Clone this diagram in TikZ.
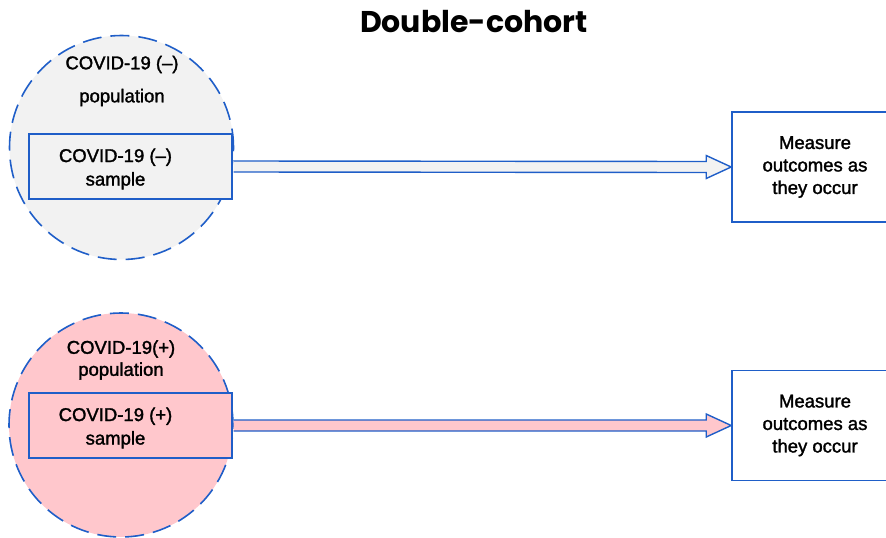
\documentclass[tikz,border=0pt]{standalone}
\usepackage{fontspec}
\setmainfont{Liberation Sans}
\newfontfamily\bodyfont{Liberation Sans}[FakeBold=1.6]
\newfontfamily\titlefont{Poppins}[BoldFont={Poppins Bold}]
\usetikzlibrary{calc}
\definecolor{bblue}{RGB}{31,94,200}
\definecolor{lgray}{RGB}{242,242,242}
\definecolor{lpink}{RGB}{255,199,204}
\begin{document}
\begin{tikzpicture}[x=1pt,y=-1pt,
 pop/.style={circle, draw=bblue, line width=1.6pt, dash pattern=on 19pt off 9pt, minimum size=224pt, inner sep=0pt},
 samp/.style={draw=bblue, line width=1.6pt, minimum width=203pt, minimum height=65pt, inner sep=0pt},
 meas/.style={draw=bblue, fill=white, line width=1.6pt, minimum width=166pt, minimum height=110pt, inner sep=0pt, align=center, font=\bodyfont\fontsize{18.5}{22.5}\selectfont},
 lbl/.style={align=center, font=\bodyfont\fontsize{18.5}{22}\selectfont, inner sep=0pt},
 fat/.style={draw=bblue, line width=1.4pt, line join=miter}]
\path[use as bounding box] (0,0) rectangle (886,538);
\clip (0,0) rectangle (886,538);
\node[font=\titlefont\bfseries\fontsize{30}{32}\selectfont] (title) at (474,22) {Double-cohort};
% top cohort
\node[pop, fill=lgray] (p1) at (121.5,147.5) {};
\node[lbl] (p1t) at (122,81) {COVID-19 (–)\\[11pt]population};
\node[meas] (m1) at (815,167) {Measure\\outcomes as\\they occur};
\node[samp, fill=lgray] (s1) at (130.5,166.5) {};
\draw[fat, fill=lgray] ($(s1.east)+(0.8,-5.5)$) -- ($(m1.west)+(-25,-5.5)$) -- ($(m1.west)+(-25,-11.5)$) -- (m1.west) -- ($(m1.west)+(-25,11.5)$) -- ($(m1.west)+(-25,5.5)$) -- ($(s1.east)+(0.8,5.5)$);
\node[lbl, font=\bodyfont\fontsize{18.5}{23.5}\selectfont] (s1t) at (115.5,169) {COVID-19 (–)\\sample};
% bottom cohort
\node[pop, fill=lpink] (p2) at (121,425) {};
\node[lbl] (p2t) at (121,360) {COVID-19(+)\\population};
\node[meas] (m2) at (815,425.5) {Measure\\outcomes as\\they occur};
\node[samp, fill=lpink] (s2) at (130.5,425.5) {};
\draw[fat, fill=lpink] ($(s2.east)+(0.8,-5.5)$) -- ($(m2.west)+(-25,-5.5)$) -- ($(m2.west)+(-25,-11.5)$) -- (m2.west) -- ($(m2.west)+(-25,11.5)$) -- ($(m2.west)+(-25,5.5)$) -- ($(s2.east)+(0.8,5.5)$);
\node[lbl, font=\bodyfont\fontsize{18.5}{23.5}\selectfont] (s2t) at (115.5,428) {COVID-19 (+)\\sample};
\end{tikzpicture}
\end{document}
